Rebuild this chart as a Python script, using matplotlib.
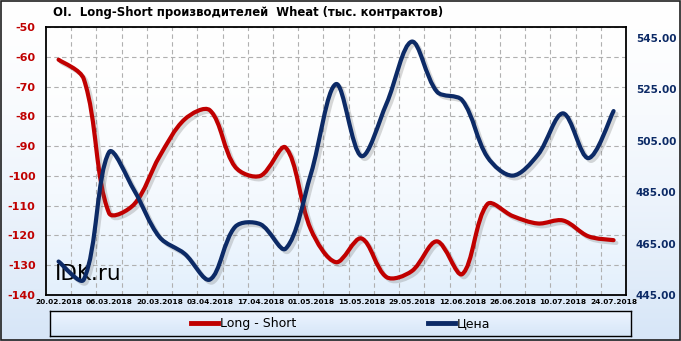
import matplotlib
matplotlib.use('Agg')
import matplotlib.pyplot as plt
import matplotlib.patheffects as pe
from matplotlib.path import Path
from matplotlib.patches import PathPatch, Rectangle
from matplotlib.lines import Line2D
import numpy as np

dates = ['20.02.2018', '27.02.2018', '06.03.2018', '13.03.2018', '20.03.2018',
         '27.03.2018', '03.04.2018', '10.04.2018', '17.04.2018', '24.04.2018',
         '01.05.2018', '08.05.2018', '15.05.2018', '22.05.2018', '29.05.2018',
         '05.06.2018', '12.06.2018', '19.06.2018', '26.06.2018', '03.07.2018',
         '10.07.2018', '17.07.2018', '24.07.2018']

long_short = [-61, -67.5, -112.5, -109.5, -93.5, -81, -78, -97, -100, -90.5,
              -118, -129, -121, -134, -132, -122, -133, -109.5, -113.5, -116,
              -115, -120.3, -121.6]

price = [458, 451, 500.5, 485.6, 467.5, 461, 451, 471.5, 472.5, 463,
         492, 527, 499, 519.4, 543.5, 524, 520.7, 498.6, 491.4, 499.5,
         515.6, 498.2, 516.5]

left_ticks = [-50, -60, -70, -80, -90, -100, -110, -120, -130, -140]
right_ticks = [445, 465, 485, 505, 525, 545]

RED = '#c00000'
BLUE = '#0c2a66'


def smooth_path(xs, ys, sx, sy):
    # bezier "smoothed line"; arms weighted by neighbouring segment lengths (in pixels)
    pts = np.column_stack([xs, ys]).astype(float)
    scale = np.array([sx, sy])
    n = len(pts)
    verts = [pts[0]]
    codes = [Path.MOVETO]

    def seglen(a, b):
        return np.hypot(*((b - a) * scale))

    for i in range(n - 1):
        p0 = pts[max(i - 1, 0)]
        p1 = pts[i]
        p2 = pts[i + 1]
        p3 = pts[min(i + 2, n - 1)]
        d01, d12, d23 = seglen(p0, p1), seglen(p1, p2), seglen(p2, p3)
        w1 = d12 / (d01 + d12) if d01 > 0 else 0.5
        w2 = d12 / (d12 + d23) if d23 > 0 else 0.5
        c1 = p1 + (p2 - p0) * w1 / 3.0
        c2 = p2 - (p3 - p1) * w2 / 3.0
        verts += [c1, c2, p2]
        codes += [Path.CURVE4] * 3
    return Path(verts, codes)


def main():
    fig = plt.figure(figsize=(6.81, 3.41), dpi=100)

    # figure background gradient
    bg = fig.add_axes([0, 0, 1, 1], zorder=-10)
    grad = np.linspace(0, 1, 256)[:, None]
    top = np.array([1.0, 1.0, 1.0])
    bot = np.array([0.84, 0.90, 0.97])
    img = top + (bot - top) * (grad[..., None] ** 1.5)
    bg.imshow(img, aspect='auto', extent=[0, 1, 0, 1], origin='upper')
    bg.set_axis_off()
    fig.patches.append(Rectangle((0.001, 0.002), 0.997, 0.995, transform=fig.transFigure,
                                 fill=False, edgecolor='#202020', linewidth=1.2))

    ax = fig.add_axes([0.0675, 0.135, 0.852, 0.786])
    x = np.arange(len(dates))

    # plot area gradient
    pimg = top + (np.array([0.89, 0.94, 0.99]) - top) * (grad[..., None] ** 2)
    ax.imshow(pimg, aspect='auto', extent=[0, 1, 0, 1], origin='upper',
              transform=ax.transAxes, zorder=0)

    shadow = [pe.SimpleLineShadow(offset=(2, -2), shadow_color='#666666', alpha=0.25),
              pe.Normal()]

    red_patch = PathPatch(smooth_path(x, long_short, 25.2, 2.98), fill=False, edgecolor=RED,
                          linewidth=3.0, capstyle='round', joinstyle='round', zorder=3,
                          path_effects=shadow)
    ax.add_patch(red_patch)

    ax.set_xlim(-0.5, len(dates) - 0.5)
    ax.set_ylim(-140, -50)
    ax.set_yticks(left_ticks)
    ax.set_yticklabels([str(t) for t in left_ticks])
    ax.set_xticks(x[::2])
    ax.set_xticklabels(dates[::2])
    ax.set_xticks(np.arange(len(dates) - 1) + 0.5, minor=True)
    ax.tick_params(axis='y', length=0, pad=7.5, labelcolor=RED, labelsize=8)
    ax.tick_params(axis='x', which='both', length=0, pad=3, labelsize=5.3)
    for lab in ax.get_yticklabels():
        lab.set_fontweight('bold')
    for lab in ax.get_xticklabels():
        lab.set_fontweight('bold')
    ax.grid(axis='y', which='major', linestyle=(0, (4, 3)), color='#b0b0b0', linewidth=0.8)
    ax.grid(axis='x', which='minor', linestyle=(0, (4, 3)), color='#b0b0b0', linewidth=0.8)
    for s in ax.spines.values():
        s.set_linewidth(1.3)
        s.set_color('black')

    ax2 = ax.twinx()
    blue_patch = PathPatch(smooth_path(x, price, 25.2, 2.566), fill=False, edgecolor=BLUE,
                           linewidth=3.0, capstyle='round', joinstyle='round', zorder=3,
                           path_effects=shadow)
    ax2.add_patch(blue_patch)
    ax2.set_ylim(445, 549.2)
    ax2.set_yticks(right_ticks)
    ax2.set_yticklabels(['%.2f' % t for t in right_ticks])
    ax2.tick_params(axis='y', length=0, pad=7, labelcolor=BLUE, labelsize=7.6)
    for lab in ax2.get_yticklabels():
        lab.set_fontweight('bold')
    for s in ax2.spines.values():
        s.set_visible(False)

    ax.text(0.016, 0.055, 'IDK.ru', transform=ax.transAxes, fontsize=15.5,
            color='black', va='baseline', zorder=5)

    fig.text(0.078, 0.962, 'OI.  Long-Short производителей  Wheat (тыс. контрактов)',
             fontsize=8.4, fontweight='bold', ha='left', va='center')

    # legend box
    lax = fig.add_axes([0.0735, 0.0145, 0.853, 0.073])
    ltop = np.array([0.93, 0.96, 1.0])
    limg = ltop + (bot - ltop) * grad[..., None]
    lax.imshow(limg, aspect='auto', extent=[0, 1, 0, 1], origin='upper')
    lax.set_xticks([])
    lax.set_yticks([])
    for s in lax.spines.values():
        s.set_linewidth(1.0)
        s.set_color('black')
    handles = [Line2D([], [], color=RED, linewidth=3.5),
               Line2D([], [], color=BLUE, linewidth=3.5)]
    lax.legend(handles, ['Long - Short', 'Цена'], loc='center', ncol=2, frameon=False,
               fontsize=9, handlelength=2.2, handletextpad=0.15, columnspacing=10.5)

    fig.savefig('out.png', dpi=100)


if __name__ == '__main__':
    main()
